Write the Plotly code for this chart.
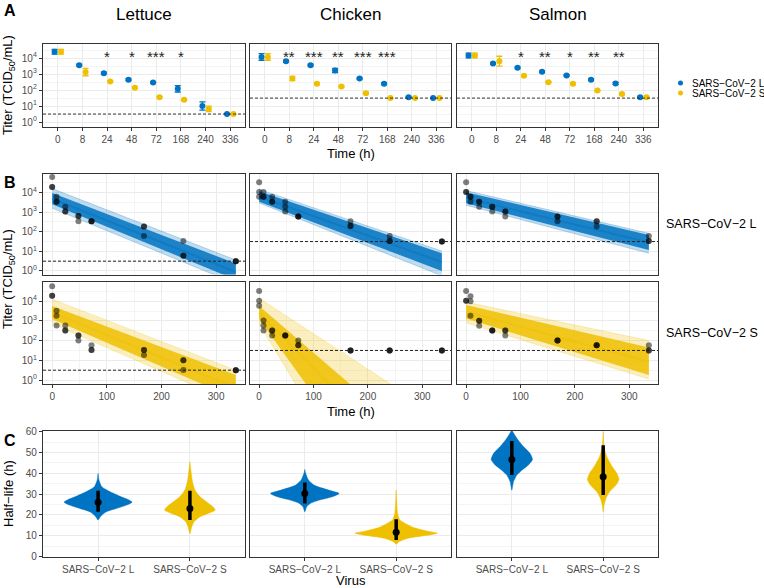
import plotly.graph_objects as go

W, H = 764, 588
BLUE = "#0073C2"
GOLD = "#EFC000"
FONT = "Liberation Sans, Arial, sans-serif"

# ---- shared labels ----
time_labels = ["0", "8", "24", "48", "72", "168", "240", "336"]
hours = [0, 8, 24, 48, 72, 168, 240, 336]
foods = ["Lettuce", "Chicken", "Salmon"]
virus_labels = ["SARS\u2212CoV\u22122 L", "SARS\u2212CoV\u22122 S"]
lod_log10 = [0.5, 1.5, 1.5]

# ---- A: mean titer (log10 TCID50/mL) and error (log10) ----
lettuce_L_mean = [4.40, 3.56, 3.06, 2.65, 2.48, 2.08, 1.00, 0.50]
lettuce_L_err = [0.15, 0.06, 0.07, 0.06, 0.04, 0.20, 0.26, 0.0]
lettuce_S_mean = [4.40, 3.13, 2.54, 2.15, 1.56, 1.40, 0.83, 0.50]
lettuce_S_err = [0.15, 0.23, 0.05, 0.06, 0.05, 0.05, 0.17, 0.0]
chicken_L_mean = [4.08, 3.81, 3.56, 3.23, 2.73, 2.40, 1.56, 1.50]
chicken_L_err = [0.21, 0.06, 0.06, 0.13, 0.04, 0.06, 0.05, 0.0]
chicken_S_mean = [4.08, 2.73, 2.40, 2.23, 1.81, 1.50, 1.50, 1.50]
chicken_S_err = [0.21, 0.13, 0.06, 0.04, 0.07, 0.0, 0.0, 0.0]
salmon_L_mean = [4.17, 3.67, 3.40, 3.15, 2.92, 2.65, 2.42, 1.56]
salmon_L_err = [0.15, 0.05, 0.05, 0.05, 0.05, 0.06, 0.06, 0.04]
salmon_S_mean = [4.17, 3.81, 2.90, 2.50, 2.40, 1.98, 1.75, 1.56]
salmon_S_err = [0.15, 0.31, 0.05, 0.04, 0.05, 0.04, 0.04, 0.05]

lettuce_stars = ["", "", "*", "*", "***", "*", "", ""]
chicken_stars = ["", "**", "***", "**", "***", "***", "", ""]
salmon_stars = ["", "", "*", "**", "*", "**", "**", ""]

# ---- B: replicate titers (log10) per time point ----
lettuce_L_reps = [[4.79, 4.28, 4.28], [3.78, 3.53, 3.53], [3.27, 3.03, 3.03], [2.80, 2.80, 2.53],
                  [2.53, 2.53, 2.53], [2.27, 2.27, 1.78], [1.53, 0.78, 0.78], [0.5, 0.5, 0.5]]
lettuce_S_reps = [[4.76, 4.27, 4.27], [3.51, 3.26, 2.77], [2.77, 2.51, 2.51], [2.26, 2.26, 2.01],
                  [1.76, 1.52, 1.52], [1.52, 1.52, 1.27], [1.01, 1.01, 0.51], [0.5, 0.5, 0.5]]
chicken_L_reps = [[4.53, 4.03, 3.78], [4.03, 3.78, 3.78], [3.78, 3.53, 3.53], [3.53, 3.27, 3.03],
                  [2.78, 2.78, 2.78], [2.54, 2.29, 2.29], [1.78, 1.53, 1.53], [1.5, 1.5, 1.5]]
chicken_S_reps = [[4.51, 4.02, 3.76], [3.02, 2.77, 2.51], [2.51, 2.51, 2.26], [2.26, 2.26, 2.26],
                  [2.01, 1.76, 1.76], [1.5, 1.5, 1.5], [1.5, 1.5, 1.5], [1.5, 1.5, 1.5]]
salmon_L_reps = [[4.53, 4.03, 4.03], [3.78, 3.78, 3.53], [3.53, 3.53, 3.27], [3.27, 3.27, 3.03],
                 [3.03, 3.03, 2.78], [2.78, 2.78, 2.53], [2.53, 2.53, 2.27], [1.78, 1.53, 1.53]]
salmon_S_reps = [[4.51, 4.02, 4.02], [4.25, 4.00, 3.26], [3.00, 3.00, 2.75], [2.51, 2.51, 2.51],
                 [2.51, 2.51, 2.26], [2.01, 2.01, 2.01], [1.76, 1.76, 1.76], [1.76, 1.50, 1.50]]

# posterior fit fan at t = 0 h and t = 336 h: outer hi, core hi, centre, core lo, outer lo
lettuce_L_fit_t0 = [4.20, 3.98, 3.68, 3.40, 3.20]
lettuce_L_fit_t336 = [0.56, 0.38, -0.05, -0.45, -0.65]
lettuce_S_fit_t0 = [4.10, 3.75, 3.42, 3.10, 2.85]
lettuce_S_fit_t336 = [0.50, 0.25, -0.40, -0.95, -1.20]
chicken_L_fit_t0 = [4.16, 4.07, 3.80, 3.53, 3.47]
chicken_L_fit_t336 = [1.02, 0.90, 0.45, 0.00, -0.25]
chicken_S_fit_t0 = [4.15, 3.75, 3.40, 3.10, 2.85]
chicken_S_fit_t336 = [-1.90, -4.20, -6.00, -9.80, -12.50]
salmon_L_fit_t0 = [4.10, 4.02, 3.72, 3.45, 3.35]
salmon_L_fit_t336 = [1.92, 1.83, 1.45, 1.07, 0.90]
salmon_S_fit_t0 = [3.95, 3.80, 3.46, 3.12, 2.90]
salmon_S_fit_t336 = [2.00, 1.65, 0.93, 0.25, 0.05]

# ---- C: half-life posterior profiles (h) and half-widths ----
lettuce_L_hl_y = [17.5, 19.4, 21.5, 23.1, 24.7, 26.1, 27.5, 28.7, 31.1, 33.5, 36.7, 39.9]
lettuce_L_hl_w = [0, 0.03, 0.09, 0.20, 0.31, 0.37, 0.32, 0.25, 0.13, 0.04, 0.01, 0]
lettuce_S_hl_y = [11.0, 14.3, 16.7, 19.1, 20.7, 22.3, 23.9, 26.3, 28.7, 31.9, 35.5, 39.9, 45.5]
lettuce_S_hl_w = [0, 0.02, 0.045, 0.11, 0.20, 0.276, 0.25, 0.18, 0.11, 0.055, 0.03, 0.015, 0]
chicken_L_hl_y = [21.5, 23.9, 25.5, 27.1, 28.7, 30.3, 31.9, 34.3, 36.7, 39.9, 41.8]
chicken_L_hl_w = [0, 0.02, 0.06, 0.16, 0.30, 0.375, 0.26, 0.10, 0.04, 0.01, 0]
chicken_S_hl_y = [5.9, 7.1, 8.7, 9.5, 10.5, 11.2, 12.3, 13.9, 15.9, 17.5, 20.7, 25.5, 31.9]
chicken_S_hl_w = [0, 0.03, 0.12, 0.23, 0.38, 0.45, 0.33, 0.19, 0.10, 0.04, 0.015, 0.007, 0]
salmon_L_hl_y = [31.9, 35.9, 39.1, 41.5, 43.9, 46.6, 49.5, 52.7, 55.9, 58.5, 60.3]
salmon_L_hl_w = [0, 0.018, 0.055, 0.11, 0.18, 0.226, 0.20, 0.13, 0.07, 0.03, 0.005]
salmon_S_hl_y = [21.5, 24.7, 27.9, 31.1, 34.3, 37.0, 39.9, 43.1, 47.9, 52.7, 60.0]
salmon_S_hl_w = [0, 0.01, 0.03, 0.07, 0.14, 0.173, 0.15, 0.10, 0.04, 0.01, 0]

lettuce_hl_median = [26.1, 23.1]
lettuce_hl_lo = [21.5, 17.5]
lettuce_hl_hi = [31.6, 31.6]
chicken_hl_median = [30.3, 11.7]
chicken_hl_lo = [25.5, 7.9]
chicken_hl_hi = [35.6, 17.9]
salmon_hl_median = [46.6, 38.3]
salmon_hl_lo = [39.1, 29.5]
salmon_hl_hi = [55.5, 53.5]

# ---- layout geometry (pixels) ----
col_px = [(43, 245), (250, 451), (457, 658)]
row_px = {"A": (43.5, 126.5), "B1": (173.5, 274.5), "B2": (282, 384), "C": (431, 556.5)}


def px(x):
    return x / W


def py(y):
    return 1 - y / H


def ax_names(n):
    return ("x" if n == 1 else f"x{n}"), ("y" if n == 1 else f"y{n}")


def axis_style(show, **kw):
    d = dict(showline=True, mirror=True, linecolor="#333333", linewidth=1.3,
             ticks="outside" if show else "", ticklen=3, tickwidth=1, tickcolor="#333333",
             showticklabels=show, showgrid=True, gridcolor="#EBEBEB", gridwidth=1,
             zeroline=False, automargin=False,
             tickfont=dict(family=FONT, size=10, color="#4D4D4D"))
    d.update(kw)
    return d


layout_axes = {}


def add_axes(n, col, row, xkw, ykw):
    xn, yn = ax_names(n)
    xkey = "xaxis" if n == 1 else f"xaxis{n}"
    ykey = "yaxis" if n == 1 else f"yaxis{n}"
    c0, c1 = col_px[col]
    r0, r1 = row_px[row]
    layout_axes[xkey] = dict(domain=[px(c0), px(c1)], anchor=yn, **xkw)
    layout_axes[ykey] = dict(domain=[py(r1), py(r0)], anchor=xn, **ykw)


log_ticks = [0, 1, 2, 3, 4]
log_text = [f"10<sup>{v}</sup>" for v in log_ticks]
log_minor = dict(tickvals=[0.5, 1.5, 2.5, 3.5, 4.5], showgrid=True, gridcolor="#F4F4F4",
                 gridwidth=0.6, ticks="")

fig = go.Figure()
shapes = []
annotations = []

# ---------------- A ----------------
a_series = [
    (lettuce_L_mean, lettuce_L_err, lettuce_S_mean, lettuce_S_err, lettuce_stars),
    (chicken_L_mean, chicken_L_err, chicken_S_mean, chicken_S_err, chicken_stars),
    (salmon_L_mean, salmon_L_err, salmon_S_mean, salmon_S_err, salmon_stars),
]
cats = list(range(len(time_labels)))
for j, (lm, le, sm, se, stars) in enumerate(a_series):
    n = j + 1
    xn, yn = ax_names(n)
    add_axes(n, j, "A",
             axis_style(True, tickvals=cats, ticktext=time_labels, range=[-0.6, 7.6]),
             axis_style(j == 0, tickvals=log_ticks, ticktext=log_text, range=[-0.28, 4.92],
                        minor=log_minor))
    for mean, err, color, off in [(lm, le, BLUE, -0.13), (sm, se, GOLD, 0.13)]:
        fig.add_trace(go.Scatter(
            x=[c + off for c in cats], y=mean, mode="markers",
            marker=dict(color=color, size=6),
            error_y=dict(type="data", array=err, color=color, thickness=1.3, width=3),
            xaxis=xn, yaxis=yn, showlegend=False))
    for c, s in zip(cats, stars):
        if s:
            annotations.append(dict(x=c, y=4.08, xref=xn, yref=yn, text=s, showarrow=False,
                                    xanchor="center", yanchor="middle",
                                    font=dict(family=FONT, size=15, color="#222222")))
    shapes.append(dict(type="line", xref=f"{xn} domain", x0=0, x1=1, yref=yn,
                       y0=lod_log10[j], y1=lod_log10[j], layer="above",
                       line=dict(color="#333333", width=1, dash="3px,2px")))

# ---------------- B ----------------
b_series = [
    (lettuce_L_reps, lettuce_L_fit_t0, lettuce_L_fit_t336, lettuce_S_reps, lettuce_S_fit_t0, lettuce_S_fit_t336),
    (chicken_L_reps, chicken_L_fit_t0, chicken_L_fit_t336, chicken_S_reps, chicken_S_fit_t0, chicken_S_fit_t336),
    (salmon_L_reps, salmon_L_fit_t0, salmon_L_fit_t336, salmon_S_reps, salmon_S_fit_t0, salmon_S_fit_t336),
]
fit_hours = [hours[0], hours[-1]]
for j, (lr, l0, l1, sr, s0, s1) in enumerate(b_series):
    for r, (reps, f0, f1, rgb) in enumerate([(lr, l0, l1, (0, 115, 194)), (sr, s0, s1, (239, 192, 0))]):
        n = 4 + j + 3 * r
        xn, yn = ax_names(n)
        add_axes(n, j, "B1" if r == 0 else "B2",
                 axis_style(r == 1, tickvals=[0, 100, 200, 300], range=[-16.8, 352.8],
                            minor=dict(tickvals=[50, 150, 250], showgrid=True, gridcolor="#F4F4F4",
                                       gridwidth=0.6, ticks="")),
                 axis_style(j == 0, tickvals=log_ticks, ticktext=log_text,
                            range=[-0.18 if r == 0 else -0.2, 4.97], minor=log_minor))
        rgba = "rgba({},{},{},{{}})".format(*rgb)
        # outer envelope of posterior lines
        fig.add_trace(go.Scatter(
            x=[fit_hours[0], fit_hours[1], fit_hours[1], fit_hours[0]],
            y=[f0[0], f1[0], f1[4], f0[4]], fill="toself", mode="lines",
            line=dict(width=0), fillcolor=rgba.format(0.25),
            xaxis=xn, yaxis=yn, showlegend=False, hoverinfo="skip"))
        for k in (0, 4):
            fig.add_trace(go.Scatter(x=fit_hours, y=[f0[k], f1[k]], mode="lines",
                                     line=dict(color=rgba.format(0.3), width=0.8),
                                     xaxis=xn, yaxis=yn, showlegend=False, hoverinfo="skip"))
        # dense core
        fig.add_trace(go.Scatter(
            x=[fit_hours[0], fit_hours[1], fit_hours[1], fit_hours[0]],
            y=[f0[1], f1[1], f1[3], f0[3]], fill="toself", mode="lines",
            line=dict(width=0), fillcolor=rgba.format(0.85),
            xaxis=xn, yaxis=yn, showlegend=False, hoverinfo="skip"))
        fig.add_trace(go.Scatter(x=fit_hours, y=[f0[2], f1[2]], mode="lines",
                                 line=dict(color=rgba.format(0.5), width=2),
                                 xaxis=xn, yaxis=yn, showlegend=False, hoverinfo="skip"))
        xs = [h for h, rep in zip(hours, reps) for _ in rep]
        ys = [v for rep in reps for v in rep]
        fig.add_trace(go.Scatter(x=xs, y=ys, mode="markers",
                                 marker=dict(color="rgba(0,0,0,0.5)", size=6),
                                 xaxis=xn, yaxis=yn, showlegend=False))
        shapes.append(dict(type="line", xref=f"{xn} domain", x0=0, x1=1, yref=yn,
                           y0=lod_log10[j], y1=lod_log10[j], layer="above",
                           line=dict(color="#222222", width=1, dash="3px,2px")))

# ---------------- C ----------------
c_series = [
    ((lettuce_L_hl_y, lettuce_L_hl_w), (lettuce_S_hl_y, lettuce_S_hl_w), lettuce_hl_median, lettuce_hl_lo, lettuce_hl_hi),
    ((chicken_L_hl_y, chicken_L_hl_w), (chicken_S_hl_y, chicken_S_hl_w), chicken_hl_median, chicken_hl_lo, chicken_hl_hi),
    ((salmon_L_hl_y, salmon_L_hl_w), (salmon_S_hl_y, salmon_S_hl_w), salmon_hl_median, salmon_hl_lo, salmon_hl_hi),
]
for j, (vl, vs, med, lo, hi) in enumerate(c_series):
    n = 10 + j
    xn, yn = ax_names(n)
    add_axes(n, j, "C",
             axis_style(True, tickvals=[1, 2], ticktext=virus_labels, range=[0.4, 2.6]),
             axis_style(j == 0, tickvals=[0, 10, 20, 30, 40, 50, 60], range=[0, 60.3],
                        minor=dict(tickvals=[5, 15, 25, 35, 45, 55], showgrid=True,
                                   gridcolor="#F4F4F4", gridwidth=0.6, ticks="")))
    for k, ((yv, wv), color) in enumerate([(vl, BLUE), (vs, GOLD)]):
        pos = k + 1
        xs = [pos + w for w in wv] + [pos - w for w in wv[::-1]]
        ys = list(yv) + list(yv[::-1])
        fig.add_trace(go.Scatter(x=xs, y=ys, fill="toself", mode="lines",
                                 line=dict(width=0.5, color=color, shape="spline", smoothing=0.6),
                                 fillcolor=color, xaxis=xn, yaxis=yn, showlegend=False,
                                 hoverinfo="skip"))
        fig.add_trace(go.Scatter(x=[pos, pos], y=[lo[k], hi[k]], mode="lines",
                                 line=dict(color="black", width=3.5),
                                 xaxis=xn, yaxis=yn, showlegend=False, hoverinfo="skip"))
        fig.add_trace(go.Scatter(x=[pos], y=[med[k]], mode="markers",
                                 marker=dict(color="black", size=7),
                                 xaxis=xn, yaxis=yn, showlegend=False))


# ---------------- text ----------------
def txt(x, y, text, size=13, xanchor="center", **kw):
    d = dict(x=px(x), y=py(y), xref="paper", yref="paper", text=text, showarrow=False,
             xanchor=xanchor, yanchor="middle",
             font=dict(family=FONT, size=size, color="black"))
    d.update(kw)
    annotations.append(d)


for lab, y in [("A", 11), ("B", 182), ("C", 440)]:
    txt(10, y, f"<b>{lab}</b>", size=16)
for j, f in enumerate(foods):
    txt((col_px[j][0] + col_px[j][1]) / 2, 15, f, size=17)
txt(8, 85, "Titer (TCID<sub>50</sub>/mL)", textangle=-90)
txt(8, 279, "Titer (TCID<sub>50</sub>/mL)", textangle=-90)
txt(8, 494, "Half\u2212life (h)", textangle=-90)
txt(350.5, 153, "Time (h)")
txt(350.5, 411, "Time (h)")
txt(350.5, 580, "Virus")
txt(664, 224, virus_labels[0], size=12.5, xanchor="left")
txt(664, 333, virus_labels[1], size=12.5, xanchor="left")

# legend (manual)
for k, color in enumerate([BLUE, GOLD]):
    cy = 83 + 10 * k
    shapes.append(dict(type="circle", xref="paper", yref="paper",
                       x0=px(678), x1=px(683), y0=py(cy + 2.5), y1=py(cy - 2.5),
                       fillcolor=color, line=dict(width=0)))
    txt(690, cy, virus_labels[k], size=10, xanchor="left")

fig.update_layout(
    template="none",
    width=W, height=H, margin=dict(l=0, r=0, t=0, b=0, pad=0, autoexpand=False),
    paper_bgcolor="white", plot_bgcolor="white",
    font=dict(family=FONT), showlegend=False,
    shapes=shapes, annotations=annotations, **layout_axes)

fig.write_html("out.html", config={"displayModeBar": False},
               post_script="document.body.style.margin='0';document.body.style.padding='0';")
